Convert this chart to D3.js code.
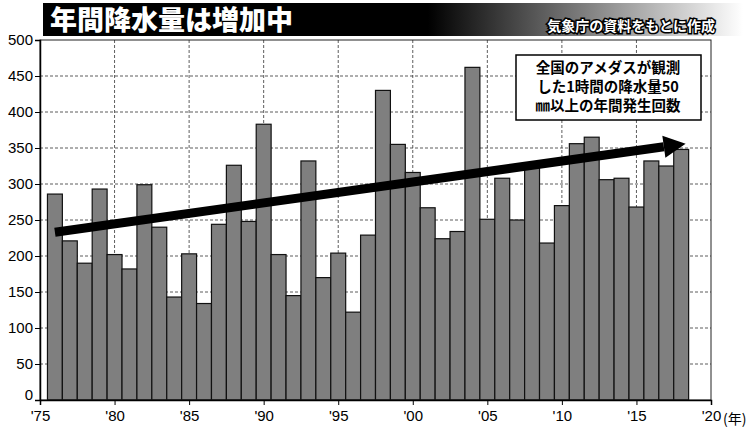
<!DOCTYPE html>
<html><head><meta charset="utf-8">
<script src="https://cdn.jsdelivr.net/npm/d3@7"></script>
<style>body{margin:0;background:#fff}svg{display:block}</style>
</head><body>
<svg id="c" width="750" height="437"></svg>
<script>
const years = d3.range(1976, 2019);
const counts = [286, 221, 190, 293, 202, 182, 299, 240, 143, 203,
  134, 244, 326, 248, 383, 202, 145, 332, 170, 204,
  122, 229, 430, 355, 316, 267, 224, 234, 462, 251,
  308, 250, 323, 218, 270, 356, 365, 306, 308, 268,
  332, 325, 348];
const yTicks = d3.range(0, 501, 50);
const xTicks = [1975, 1980, 1985, 1990, 1995, 2000, 2005, 2010, 2015, 2020];
const trend = [[1976, 233], [2018.3, 356]];
const title = "年間降水量は増加中";
const source = "気象庁の資料をもとに作成";
const legendLines = ["全国のアメダスが観測", "した1時間の降水量50", "㎜以上の年間発生回数"];

const font = "'Noto Sans CJK JP', sans-serif";
const svg = d3.select("#c");
const m = {left: 40, right: 711, top: 40, bottom: 400};
const x = d3.scaleLinear().domain([1975, 2020]).range([m.left, m.right]);
const y = d3.scaleLinear().domain([0, 500]).range([m.bottom, m.top]);

// title band
const grad = svg.append("defs").append("linearGradient").attr("id", "g");
grad.append("stop").attr("offset", "0").attr("stop-color", "#000");
grad.append("stop").attr("offset", "0.55").attr("stop-color", "#000");
grad.append("stop").attr("offset", "1").attr("stop-color", "#fff");
svg.append("rect").attr("x", 43).attr("y", 3).attr("width", 700).attr("height", 33).attr("fill", "url(#g)");
svg.append("text").attr("x", 50).attr("y", 30).text(title)
  .attr("font-family", font).attr("font-weight", 900).attr("font-size", 27).attr("fill", "#fff");
svg.append("text").attr("x", 715).attr("y", 31).attr("text-anchor", "end").text(source)
  .attr("font-family", font).attr("font-weight", 700).attr("font-size", 14)
  .attr("fill", "#fff").attr("stroke", "#000").attr("stroke-width", 3).attr("paint-order", "stroke");

// grid
svg.append("g").selectAll("line").data(yTicks.filter(d => d > 0 && d < 500)).join("line")
  .attr("x1", m.left).attr("x2", m.right).attr("y1", d => y(d)).attr("y2", d => y(d))
  .attr("stroke", "#333").attr("stroke-dasharray", "3,2").attr("stroke-width", 0.8);
svg.append("g").selectAll("line").data(xTicks.slice(1, -1)).join("line")
  .attr("y1", m.top).attr("y2", m.bottom).attr("x1", d => x(d)).attr("x2", d => x(d))
  .attr("stroke", "#333").attr("stroke-dasharray", "3,2").attr("stroke-width", 0.8);

// bars
const bw = x(1) - x(0);
svg.append("g").selectAll("rect").data(years).join("rect")
  .attr("x", (d) => x(d) - bw / 2).attr("width", bw)
  .attr("y", (d, i) => y(counts[i])).attr("height", (d, i) => y(0) - y(counts[i]))
  .attr("fill", "#7f7f7f").attr("stroke", "#111").attr("stroke-width", 1.2);

// frame
svg.append("rect").attr("x", m.left).attr("y", m.top).attr("width", m.right - m.left)
  .attr("height", m.bottom - m.top).attr("fill", "none").attr("stroke", "#222").attr("stroke-width", 1);

// axes
svg.append("g").attr("transform", `translate(${m.left},0)`)
  .call(d3.axisLeft(y).tickValues(yTicks).tickSize(5).tickPadding(2).tickFormat(d3.format("d")))
  .call(g => g.select(".domain").attr("stroke", "#000").attr("stroke-width", 1.5))
  .call(g => g.selectAll("text").attr("font-family", "'Liberation Sans', Arial").attr("font-size", 15).attr("fill", "#000")
    .attr("dy", d => d === 0 ? "-0.05em" : "0.32em"));
svg.append("g").attr("transform", `translate(0,${m.bottom})`)
  .call(d3.axisBottom(x).tickValues(xTicks).tickSize(5).tickFormat(d => "'" + String(d).slice(2)))
  .call(g => g.select(".domain").attr("stroke", "#000").attr("stroke-width", 1.5))
  .call(g => g.selectAll("text").attr("font-family", "'Liberation Sans', Arial").attr("font-size", 15).attr("fill", "#000").attr("dy", "0.85em"));
svg.append("text").attr("x", x(2020) + 12).attr("y", m.bottom + 24).text("(年)")
  .attr("font-family", font).attr("font-size", 14);

// trend arrow
const p0 = [x(trend[0][0]), y(trend[0][1])], p1 = [x(trend[1][0]), y(trend[1][1])];
const ang = Math.atan2(p1[1] - p0[1], p1[0] - p0[0]);
const head = 22, hw = 11;
const bx = p1[0] - head * Math.cos(ang), by = p1[1] - head * Math.sin(ang);
svg.append("line").attr("x1", p0[0]).attr("y1", p0[1]).attr("x2", bx).attr("y2", by)
  .attr("stroke", "#000").attr("stroke-width", 9);
svg.append("path").attr("fill", "#000").attr("d",
  `M${p1[0]},${p1[1]} L${bx - hw * Math.sin(ang)},${by + hw * Math.cos(ang)} L${bx + hw * Math.sin(ang)},${by - hw * Math.cos(ang)}Z`);

// legend
svg.append("rect").attr("x", 516).attr("y", 55).attr("width", 185).attr("height", 65)
  .attr("fill", "#fff").attr("stroke", "#000").attr("stroke-width", 1.5);
svg.append("g").selectAll("text").data(legendLines).join("text")
  .attr("x", 608).attr("y", (d, i) => 73 + i * 19).attr("text-anchor", "middle").text(d => d)
  .attr("font-family", font).attr("font-weight", 700).attr("font-size", 14.5);
</script>
</body></html>
